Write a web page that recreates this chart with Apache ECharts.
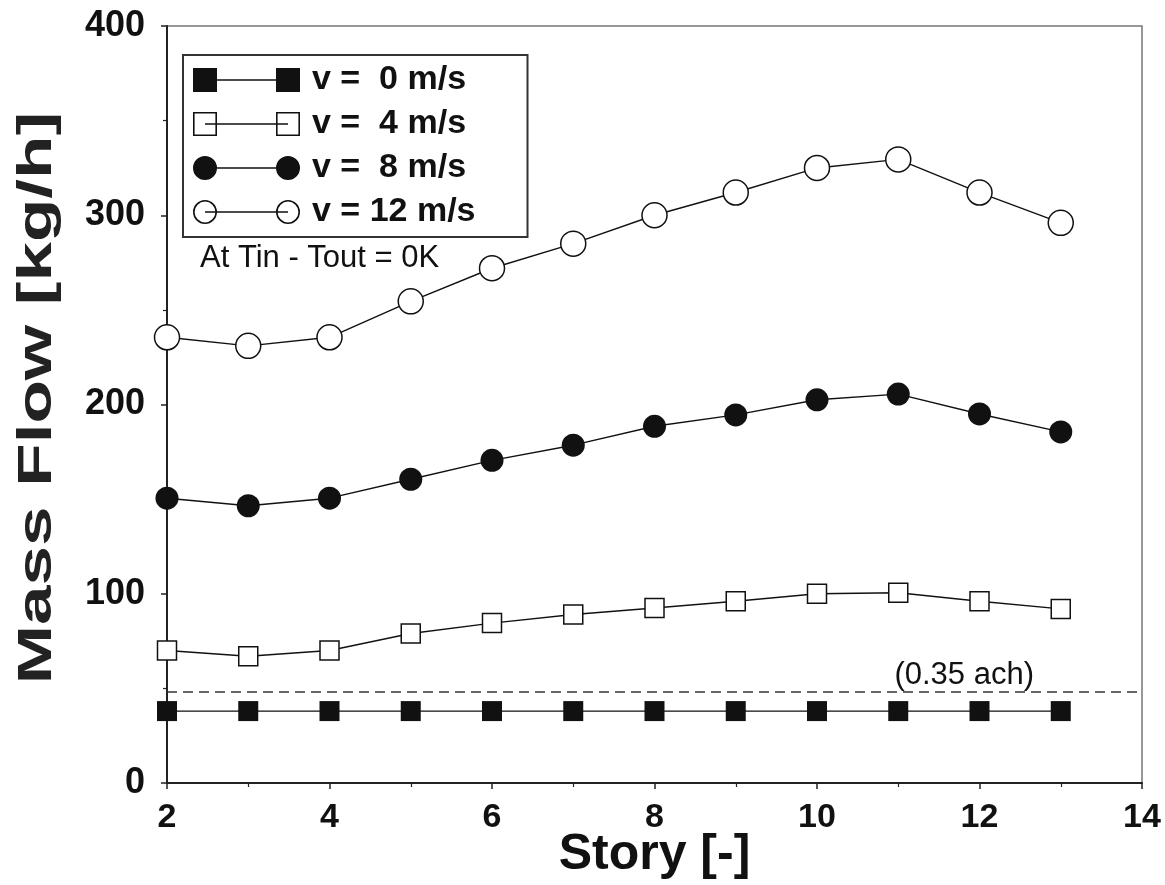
<!DOCTYPE html>
<html><head><meta charset="utf-8">
<script src="https://cdn.jsdelivr.net/npm/echarts@6/dist/echarts.min.js"></script>
<style>html,body{margin:0;padding:0;background:#fff}#c{width:1165px;height:885px}</style>
</head><body><div id="c"></div>
<script>
// ---- data ----
const stories = [2, 3, 4, 5, 6, 7, 8, 9, 10, 11, 12, 13];
const flowV0  = [38, 38, 38, 38, 38, 38, 38, 38, 38, 38, 38, 38];
const flowV4  = [70, 67, 70, 79, 84.5, 89, 92.5, 96, 100, 100.5, 96, 92];
const flowV8  = [150.5, 146.5, 150.5, 160.5, 170.5, 178.5, 188.5, 194.5, 202.5, 205.5, 195, 185.5];
const flowV12 = [235.5, 231, 235.5, 254.5, 272, 285, 300, 312, 325, 329.5, 312, 296];
const seriesNames = ['v =  0 m/s', 'v =  4 m/s', 'v =  8 m/s', 'v = 12 m/s'];
const achLevel = 48;
const achLabel = '(0.35 ach)';
const noteText = 'At Tin - Tout = 0K';
const xAxisTitle = 'Story [-]';
const yAxisTitle = 'Mass Flow [kg/h]';
const xTickRange = [2, 14, 2];
const yTickRange = [0, 400, 100];

// ---- styles ----
const INK = '#111';
const FONT = "'Liberation Sans', Arial, sans-serif";

const icons = [
  'path://M0,0H24V24H0Z M83,0H107V24H83Z M24,11.2H83V12.8H24Z',
  'path://M0,0H24V24H0Z M1.6,1.6V22.4H22.4V1.6Z M83,0H107V24H83Z M84.6,1.6V22.4H105.4V1.6Z M12,11.2H95V12.8H12Z',
  'path://M0,12A12,12 0 1,1 24,12A12,12 0 1,1 0,12Z M83,12A12,12 0 1,1 107,12A12,12 0 1,1 83,12Z M24,11.2H83V12.8H24Z',
  'path://M0,12A12,12 0 1,1 24,12A12,12 0 1,1 0,12Z M1.6,12A10.4,10.4 0 1,0 22.4,12A10.4,10.4 0 1,0 1.6,12Z M83,12A12,12 0 1,1 107,12A12,12 0 1,1 83,12Z M84.6,12A10.4,10.4 0 1,0 105.4,12A10.4,10.4 0 1,0 84.6,12Z M12,11.2H95V12.8H12Z'
];

function pairs(ys) { return stories.map((s, i) => [s, ys[i]]); }

const lineStyle = { color: INK, width: 1.4 };
const chart = echarts.init(document.getElementById('c'), null, { renderer: 'canvas' });
chart.setOption({
  animation: false,
  backgroundColor: '#fff',
  grid: { left: 167, right: 23, top: 26, bottom: 102, containLabel: false, outerBoundsMode: 'none',
    show: true, borderColor: '#777', borderWidth: 1.5, backgroundColor: 'transparent' },
  xAxis: {
    type: 'value', min: xTickRange[0], max: xTickRange[1], interval: xTickRange[2],
    name: xAxisTitle, nameLocation: 'middle', nameGap: 47, nameMoveOverlap: false,
    nameTextStyle: { fontFamily: FONT, fontWeight: 'bold', fontSize: 50, color: INK, verticalAlign: 'top' },
    axisLine: { lineStyle: { color: '#222', width: 2 } },
    axisTick: { show: true, inside: false, length: 6, lineStyle: { color: '#222', width: 1.5 } },
    minorTick: { show: true, splitNumber: 2, length: 4, lineStyle: { color: '#222', width: 1.2 } },
    axisLabel: { fontFamily: FONT, fontWeight: 'bold', fontSize: 34, color: INK, margin: 18 },
    splitLine: { show: false }
  },
  yAxis: {
    type: 'value', min: yTickRange[0], max: yTickRange[1], interval: yTickRange[2],
    axisLine: { show: true, lineStyle: { color: '#222', width: 2 } },
    axisTick: { show: true, inside: false, length: 6, lineStyle: { color: '#222', width: 1.5 } },
    minorTick: { show: true, splitNumber: 2, length: 4, lineStyle: { color: '#222', width: 1.2 } },
    axisLabel: { fontFamily: FONT, fontWeight: 'bold', fontSize: 36, color: INK, margin: 22, padding: [6, 0, 0, 0] },
    splitLine: { show: false }
  },
  legend: {
    orient: 'vertical', left: 183, top: 55,
    padding: [8, 52, 8, 10], itemGap: 10, itemWidth: 107, itemHeight: 24,
    borderColor: '#333', borderWidth: 2, backgroundColor: '#fff',
    selectedMode: false,
    textStyle: { fontFamily: FONT, fontWeight: 'bold', fontSize: 34, color: INK, padding: [0, 0, 0, 7] },
    data: seriesNames.map((n, i) => ({ name: n, icon: icons[i], itemStyle: { color: INK, borderWidth: 0, opacity: 1 } }))
  },
  graphic: [
    { type: 'text', left: 200, top: 243, z: 200, style: { text: noteText, font: '31px ' + FONT, fill: INK } },
    { type: 'text', x: 38, y: 398, rotation: Math.PI / 2, scaleX: 1.48, z: 200,
      style: { text: yAxisTitle, font: 'bold 48px ' + FONT, fill: '#222', align: 'center', verticalAlign: 'middle' } }
  ],
  series: [
    { name: seriesNames[0], type: 'line', data: pairs(flowV0), symbol: 'rect', symbolSize: 20,
      itemStyle: { color: INK }, lineStyle: lineStyle, z: 3,
      markLine: { silent: true, symbol: ['none', 'none'],
        lineStyle: { type: [10, 6], color: '#333', width: 1.5 },
        label: { show: true, formatter: achLabel, position: 'insideEndTop', distance: 1, padding: [0, 107, 0, 0],
          fontFamily: FONT, fontSize: 31, color: INK },
        data: [{ yAxis: achLevel }] } },
    { name: seriesNames[1], type: 'line', data: pairs(flowV4), symbol: 'rect', symbolSize: 19,
      itemStyle: { color: '#fff', borderColor: INK, borderWidth: 1.5 }, lineStyle: lineStyle, z: 3 },
    { name: seriesNames[2], type: 'line', data: pairs(flowV8), symbol: 'circle', symbolSize: 23,
      itemStyle: { color: INK }, lineStyle: lineStyle, z: 3 },
    { name: seriesNames[3], type: 'line', data: pairs(flowV12), symbol: 'circle', symbolSize: 25,
      itemStyle: { color: '#fff', borderColor: INK, borderWidth: 1.5 }, lineStyle: lineStyle, z: 3 }
  ]
});
</script></body></html>
